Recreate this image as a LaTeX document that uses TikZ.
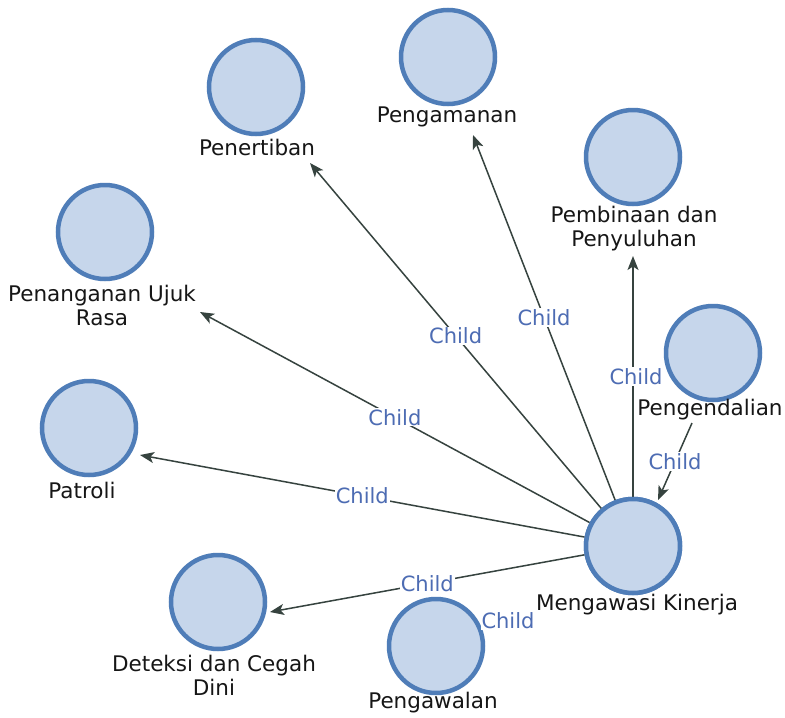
\documentclass[tikz,border=0pt]{standalone}
\usepackage{fontspec}
\setmainfont{DejaVu Sans}
\usetikzlibrary{arrows.meta}
\definecolor{nodefill}{HTML}{C6D6EB}
\definecolor{nodeline}{HTML}{4F7DB8}
\definecolor{edgecol}{HTML}{36433F}
\definecolor{relcol}{HTML}{4D6CB3}
\definecolor{txtcol}{HTML}{161616}
\tikzset{
  topic/.style={circle, draw=nodeline, line width=4.5pt, fill=nodefill, minimum size=94pt, inner sep=0pt},
  caption/.style={text=txtcol, font=\fontsize{21.5}{24}\selectfont, align=center, inner sep=0pt},
  rel/.style={text=relcol, font=\fontsize{21}{24}\selectfont, fill=white, inner sep=1pt},
  link/.style={draw=edgecol, line width=1.5pt, -{Stealth[length=14pt, width=11pt, inset=3.5pt]}},
}
\begin{document}
\begin{tikzpicture}[x=1pt, y=-1pt]
\useasboundingbox (0,0) rectangle (785,718);
\fill[white] (0,0) rectangle (785,718);

% circles
\node[topic] (pen)  at (256,87)  {};
\node[topic] (aman) at (448,57)  {};
\node[topic] (bina) at (633,157) {};
\node[topic] (ujuk) at (105,232) {};
\node[topic] (ken)  at (713,353) {};
\node[topic] (pat)  at (89,428)  {};
\node[topic] (det)  at (218,602) {};
\node[topic] (kawal) at (436,646) {};
\node[topic] (mk)   at (633,546) {};

% captions
\node[caption] (penL)  at (257,147) {Penertiban};
\node[caption] (amanL) at (447,117) {Pengamanan};
\node[caption] (binaL) at (634,229) {Pembinaan dan\\Penyuluhan};
\node[caption] (ujukL) at (102,305) {Penanganan Ujuk\\Rasa};
\node[caption] (kenL)  at (710,410) {Pengendalian};
\node[caption] (patL)  at (82,490)  {Patroli};
\node[caption] (detL)  at (214,675) {Deteksi dan Cegah\\Dini};
\node[caption] (kawalL) at (433,703) {Pengawalan};
\node[caption] (mkL)   at (637,605) {Mengawasi Kinerja};

% arrow tips
\coordinate (tPen)  at (310,163);
\coordinate (tAman) at (473,135);
\coordinate (tBina) at (633,256);
\coordinate (tUjuk) at (200,312);
\coordinate (tPat)  at (140,455);
\coordinate (tDet)  at (270,612);
\coordinate (tMk)   at (658,500);
\coordinate (sKen)  at (692,423);

% connectors
\path[link] (mk) -- (tPen)  node[rel, midway] {Child};
\path[link] (mk) -- (tAman) node[rel, midway] {Child};
\path[link] (mk) -- (tBina) node[rel, midway, xshift=3pt] {Child};
\path[link] (mk) -- (tUjuk) node[rel, midway] {Child};
\path[link] (mk) -- (tPat)  node[rel, midway] {Child};
\path[link] (mk) -- (tDet)  node[rel, midway] {Child};
\path[link] (sKen) -- (tMk) node[rel, midway] {Child};

% central circle above its connectors
\node[topic] at (mk) {};
\node[rel] (kawalR) at (508,621) {Child};
\end{tikzpicture}
\end{document}
